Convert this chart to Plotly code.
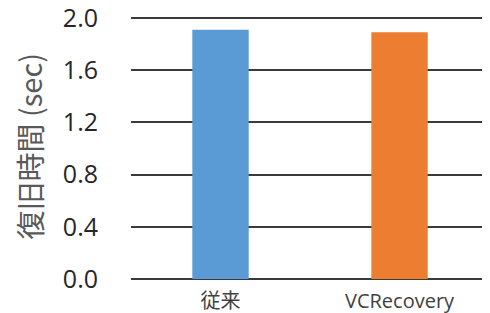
import plotly.graph_objects as go

categories = ["従来", "VCRecovery"]
values = [1.91, 1.89]
bar_colors = ["#5B9BD5", "#ED7D31"]
y_ticks = [0.0, 0.4, 0.8, 1.2, 1.6, 2.0]
y_tick_labels = ["0.0", "0.4", "0.8", "1.2", "1.6", "2.0"]
y_title = "復旧時間 (sec)"

fig = go.Figure(
    go.Bar(
        x=categories,
        y=values,
        marker=dict(color=bar_colors, line=dict(width=0)),
        width=0.315,
    )
)

font_family = "Open Sans, Noto Sans CJK JP, sans-serif"
margin_l = 123
plot_w = 490 - margin_l

fig.update_layout(
    width=490,
    height=313,
    margin=dict(l=margin_l, r=0, t=6, b=42),
    paper_bgcolor="white",
    plot_bgcolor="white",
    showlegend=False,
    font=dict(family=font_family, color="#262626"),
    xaxis=dict(
        range=[-0.5, 1.55],
        showgrid=False,
        showline=False,
        zeroline=False,
        automargin=False,
        tickfont=dict(size=20, color="#404040"),
        ticks="",
        ticklabelstandoff=8,
        ticklabeloverflow="allow",
    ),
    yaxis=dict(
        range=[0, 2.03],
        tickvals=y_ticks,
        ticktext=y_tick_labels,
        showgrid=True,
        gridcolor="#3a3a3a",
        gridwidth=1.6,
        zeroline=True,
        zerolinecolor="#3a3a3a",
        zerolinewidth=1.6,
        showline=False,
        automargin=False,
        tickfont=dict(size=25, color="#262626"),
        ticks="",
        ticklabelstandoff=32,
        ticklabeloverflow="allow",
    ),
    annotations=[
        dict(
            text=y_title,
            textangle=-90,
            xref="paper",
            yref="paper",
            x=(20 - margin_l) / plot_w,
            y=0.5,
            xanchor="center",
            yanchor="middle",
            showarrow=False,
            borderpad=0,
            font=dict(size=29, color="#595959", family="Noto Sans CJK JP, Open Sans, sans-serif"),
        )
    ],
)

fig.write_html("out.html")
